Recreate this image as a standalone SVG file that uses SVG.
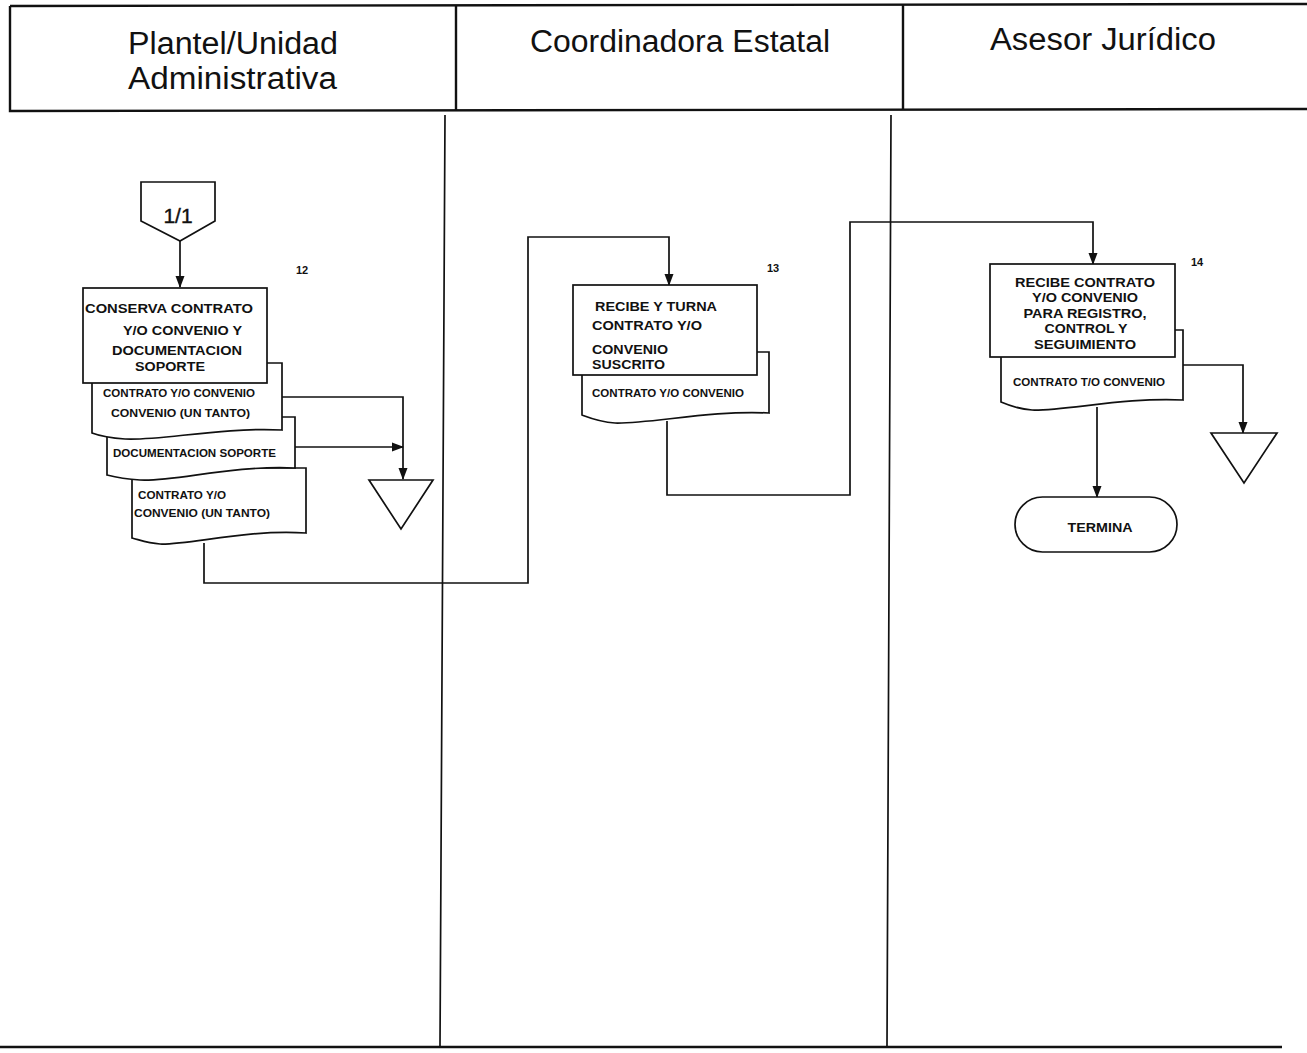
<svg xmlns="http://www.w3.org/2000/svg" width="1307" height="1053" viewBox="0 0 1307 1053">
<style>
.hdr{font-family:"Liberation Sans",Arial,sans-serif;font-size:31px;fill:#111}
.bx{font-family:"Liberation Sans",Arial,sans-serif;font-size:13.5px;font-weight:bold;fill:#111}
.dt{font-family:"Liberation Sans",Arial,sans-serif;font-size:10.5px;font-weight:bold;fill:#111}
.num{font-family:"Liberation Sans",Arial,sans-serif;font-size:11px;font-weight:bold;fill:#111}
.shape{fill:#fff;stroke:#111;stroke-width:1.7}
.ln{fill:none;stroke:#111;stroke-width:1.7}
.frame{fill:none;stroke:#111;stroke-width:2.4}
</style>
<defs>
<marker id="ah" markerWidth="12" markerHeight="10" refX="11" refY="5" orient="auto" markerUnits="userSpaceOnUse">
<path d="M0,0.5 L12,5 L0,9.5 Z" fill="#111"/>
</marker>
</defs>
<rect width="1307" height="1053" fill="#fff"/>
<g id="frame">
<path class="frame" d="M10,6 L1307,4"/>
<path class="frame" d="M10,6 V111 L1307,109"/>
<path class="frame" d="M456,6 V110 M903,5 V110"/>
<path class="ln" d="M445,115 L440,1046 M891,115 L887,1046"/>
<path class="frame" d="M0,1047 H1282"/>
</g>
<g id="header">
<text class="hdr" x="128" y="54" textLength="210" lengthAdjust="spacingAndGlyphs">Plantel/Unidad</text>
<text class="hdr" x="128" y="89" textLength="209" lengthAdjust="spacingAndGlyphs">Administrativa</text>
<text class="hdr" x="530" y="52" textLength="300" lengthAdjust="spacingAndGlyphs">Coordinadora Estatal</text>
<text class="hdr" x="990" y="50" textLength="226" lengthAdjust="spacingAndGlyphs">Asesor Jurídico</text>
</g>
<g id="connectors">
<path class="ln" d="M180,241 V287" marker-end="url(#ah)"/>
<path class="ln" d="M282,397 H403 V479" marker-end="url(#ah)"/>
<path class="ln" d="M295,447 H403" marker-end="url(#ah)"/>
<path class="ln" d="M204,543 V583 H528 V237 H669 V285" marker-end="url(#ah)"/>
<path class="ln" d="M667,421 V495 H850 V222 H1093 V264" marker-end="url(#ah)"/>
<path class="ln" d="M1183,365 H1243 V433" marker-end="url(#ah)"/>
<path class="ln" d="M1097,407 V497" marker-end="url(#ah)"/>
</g>
<g id="n-offpage">
<path class="shape" d="M141,182 H215 V221 L180,241 L141,221 Z"/>
<text x="178" y="223" text-anchor="middle" font-family="Liberation Sans, Arial, sans-serif" font-size="21" fill="#111" stroke="#111" stroke-width="0.4">1/1</text>
</g>
<g id="n-doc3">
<path class="shape" d="M132,468 H306 V533 C246,529 190,545 160,544 C148,543 140,540 132,538 Z"/>
<text class="dt" x="138" y="499" textLength="88" lengthAdjust="spacingAndGlyphs">CONTRATO Y/O</text>
<text class="dt" x="134" y="517" textLength="136" lengthAdjust="spacingAndGlyphs">CONVENIO  (UN TANTO)</text>
</g>
<g id="n-doc2">
<path class="shape" d="M107,417 H295 V468 C230,465 175,482 140,480 C125,479 115,477 107,475 Z"/>
<text class="dt" x="113" y="457" textLength="163" lengthAdjust="spacingAndGlyphs">DOCUMENTACION SOPORTE</text>
</g>
<g id="n-doc1">
<path class="shape" d="M92,363 H282 V430 C220,427 160,441 125,439 C110,438 100,436 92,433 Z"/>
<text class="dt" x="103" y="397" textLength="152" lengthAdjust="spacingAndGlyphs">CONTRATO Y/O CONVENIO</text>
<text class="dt" x="111" y="417" textLength="139" lengthAdjust="spacingAndGlyphs">CONVENIO (UN TANTO)</text>
</g>
<g id="n-12">
<rect class="shape" x="83" y="288" width="184" height="95"/>
<text class="bx" x="85" y="313" textLength="168" lengthAdjust="spacingAndGlyphs">CONSERVA CONTRATO</text>
<text class="bx" x="123" y="335" textLength="119" lengthAdjust="spacingAndGlyphs">Y/O CONVENIO Y</text>
<text class="bx" x="112" y="355" textLength="130" lengthAdjust="spacingAndGlyphs">DOCUMENTACION</text>
<text class="bx" x="135" y="371" textLength="70" lengthAdjust="spacingAndGlyphs">SOPORTE</text>
<text class="num" x="296" y="274">12</text>
</g>
<g id="n-archive1">
<path class="shape" d="M369,480 H433 L401,529 Z"/>
</g>
<g id="n-doc13">
<path class="shape" d="M582,352 H769 V413 C710,410 650,424 615,423 C600,422 590,418 582,415 Z"/>
<text class="dt" x="592" y="397" textLength="152" lengthAdjust="spacingAndGlyphs">CONTRATO Y/O CONVENIO</text>
</g>
<g id="n-13">
<rect class="shape" x="573" y="285" width="184" height="90"/>
<text class="bx" x="595" y="311" textLength="122" lengthAdjust="spacingAndGlyphs">RECIBE Y TURNA</text>
<text class="bx" x="592" y="330" textLength="110" lengthAdjust="spacingAndGlyphs">CONTRATO Y/O</text>
<text class="bx" x="592" y="354" textLength="76" lengthAdjust="spacingAndGlyphs">CONVENIO</text>
<text class="bx" x="592" y="369" textLength="73" lengthAdjust="spacingAndGlyphs">SUSCRITO</text>
<text class="num" x="767" y="272">13</text>
</g>
<g id="n-doc14">
<path class="shape" d="M1001,330 H1183 V400 C1125,397 1065,411 1032,410 C1018,409 1008,405 1001,402 Z"/>
<text class="dt" x="1013" y="386" textLength="152" lengthAdjust="spacingAndGlyphs">CONTRATO T/O CONVENIO</text>
</g>
<g id="n-14">
<rect class="shape" x="990" y="264" width="185" height="93"/>
<text class="bx" x="1085" y="287" text-anchor="middle" textLength="140" lengthAdjust="spacingAndGlyphs">RECIBE CONTRATO</text>
<text class="bx" x="1085" y="302" text-anchor="middle" textLength="106" lengthAdjust="spacingAndGlyphs">Y/O CONVENIO</text>
<text class="bx" x="1085" y="318" text-anchor="middle" textLength="123" lengthAdjust="spacingAndGlyphs">PARA REGISTRO,</text>
<text class="bx" x="1086" y="333" text-anchor="middle" textLength="83" lengthAdjust="spacingAndGlyphs">CONTROL Y</text>
<text class="bx" x="1085" y="349" text-anchor="middle" textLength="102" lengthAdjust="spacingAndGlyphs">SEGUIMIENTO</text>
<text class="num" x="1191" y="266">14</text>
</g>
<g id="n-archive2">
<path class="shape" d="M1211,433 H1277 L1244,483 Z"/>
</g>
<g id="n-termina">
<rect class="shape" x="1015" y="497" width="162" height="55" rx="27.5" ry="27.5"/>
<text class="bx" x="1100" y="532" text-anchor="middle" textLength="65" lengthAdjust="spacingAndGlyphs">TERMINA</text>
</g>
</svg>
